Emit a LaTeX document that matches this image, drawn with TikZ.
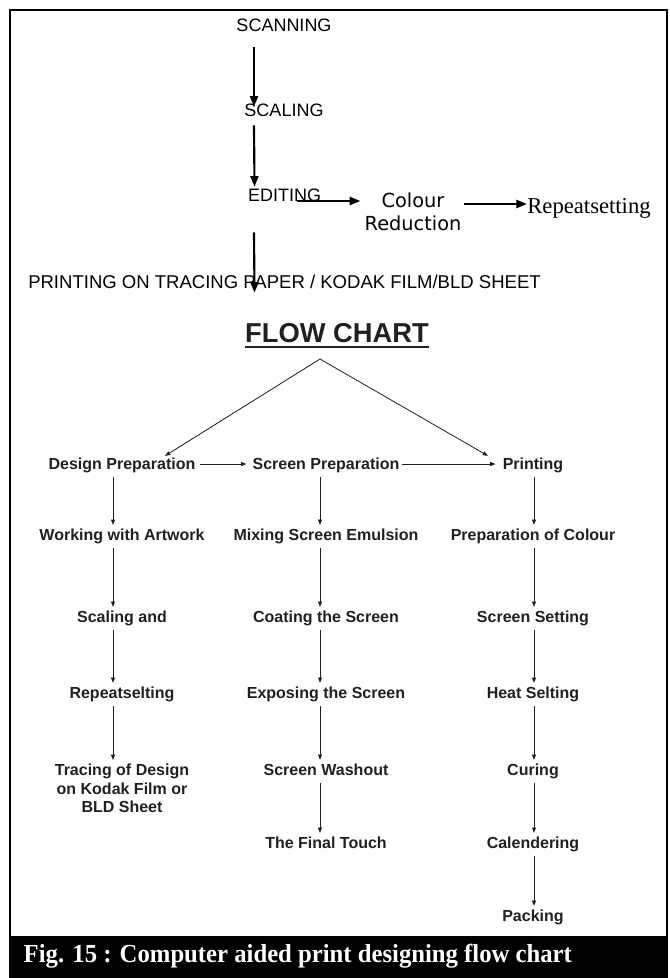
\documentclass[tikz,border=0pt]{standalone}
\usepackage{fontspec}
\setmainfont{Liberation Sans}
\newfontfamily\dejavu{DejaVu Sans}
\newfontfamily\timesfont{Liberation Serif}
\newfontfamily\capfont[FakeStretch=0.95]{Liberation Serif}
\usetikzlibrary{arrows.meta,calc}
\definecolor{ink}{HTML}{231F20}

\begin{document}
\begin{tikzpicture}[x=0.75pt,y=-0.75pt,
  topbox/.style={inner sep=0pt,text height=9.8pt,text depth=0pt,font=\fontsize{13.5}{16}\selectfont},
  stage/.style={inner xsep=0pt,inner ysep=3pt,text height=8.8pt,text depth=0pt,text=ink,font=\fontsize{12}{13.9}\selectfont\bfseries},
  bigarr/.style={line width=1.6pt,-{Triangle[length=8pt,width=6pt]}},
  smallarr/.style={line width=0.6pt,ink,-{Triangle[length=4pt,width=3pt]}}]
\useasboundingbox (0,0) rectangle (670,978);
% Marco y pie
\draw[line width=2pt] (10,10) rectangle (667,937);
\fill[black] (9,937) rectangle (668,978);
\node[anchor=west,text=white,font=\capfont\bfseries\fontsize{19.5}{22}\selectfont] (cap) at (19,956) {Fig. 15 : Computer aided print designing flow chart};
% Cadena superior
\node[topbox] (scan) at (284,25) {SCANNING};
\node[topbox] (scal) at (284,110) {SCALING};
\node[topbox] (edit) at (284.5,195) {EDITING};
\node[align=center,inner sep=0pt,font=\dejavu\fontsize{14.5}{17.3}\selectfont] (colour) at (413,212) {Colour\\Reduction};
\node[inner sep=0pt,font=\timesfont\fontsize{17}{20}\selectfont] (repeat) at (589,208) {Repeatsetting};
\node[topbox,font=\fontsize{13.9}{16}\selectfont] (print) at (284.5,282) {PRINTING ON TRACING PAPER / KODAK FILM/BLD SHEET};
\draw[bigarr] ($(scan.south)+(-30,15.5)$) -- ($(scal.north)+(-30,3.5)$);
\draw[bigarr] ($(scal.south)+(-30,8.5)$) -- ($(edit.north)+(-30,-1.5)$);
\draw[bigarr] ($(edit.east)+(-24,6)$) -- ($(colour.west)+(-4,-11)$);
\draw[bigarr] ($(colour.east)+(2,-8)$) -- ($(repeat.west)+(0,-4)$);
\draw[bigarr] ($(edit.south)+(-30.5,30.5)$) -- ($(print.north)+(-30,17.5)$);
% Titulo
\node[inner sep=0pt,font=\fontsize{20.5}{24}\selectfont\bfseries,text=ink] (flow) at (337,333) {FLOW CHART};
\draw[line width=1.4pt,ink] ([yshift=-3.5pt]flow.base west) -- ([yshift=-3.5pt]flow.base east);
\coordinate (apex) at (320,359);
% Columnas
\node[stage] (dp) at (122,464) {Design Preparation};
\node[stage] (work) at (122,535) {Working with Artwork};
\node[stage] (scl) at (122,617) {Scaling and};
\node[stage] (rep) at (122,693) {Repeatselting};
\node[stage,text height=,text depth=,align=center,anchor=north] (trace) at (122,760) {Tracing of Design\\on Kodak Film or\\BLD Sheet};
\node[stage] (sp) at (326,464) {Screen Preparation};
\node[stage] (mix) at (326,535) {Mixing Screen Emulsion};
\node[stage] (coat) at (326,617) {Coating the Screen};
\node[stage] (expo) at (326,693) {Exposing the Screen};
\node[stage] (wash) at (326,770) {Screen Washout};
\node[stage] (final) at (326,843) {The Final Touch};
\node[stage] (pr) at (533,464) {Printing};
\node[stage] (prep) at (533,535) {Preparation of Colour};
\node[stage] (scr) at (533,617) {Screen Setting};
\node[stage] (heat) at (533,693) {Heat Selting};
\node[stage] (cur) at (533,770) {Curing};
\node[stage] (cal) at (533,843) {Calendering};
\node[stage] (pack) at (533,916) {Packing};
% Flechas
\draw[smallarr] (apex) -- ($(dp.north)+(43,2)$);
\draw[smallarr] (apex) -- ($(pr.north)+(-45,2)$);
\draw[smallarr] ($(dp.east)+(4,0)$) -- ($(sp.west)+(-6,0)$);
\draw[smallarr] ($(sp.east)+(2,0)$) -- ($(pr.west)+(-7,0)$);
\foreach \a/\b/\dx in {dp/work/-9,work/scl/-9,scl/rep/-9,rep/trace/-9,
  sp/mix/-6,mix/coat/-6,coat/expo/-6,expo/wash/-6,wash/final/-6,
  pr/prep/1,prep/scr/1,scr/heat/1,heat/cur/1,cur/cal/1,cal/pack/1}
  \draw[smallarr] ($(\a.south)+(\dx,3)$) -- ($(\b.north)+(\dx,0)$);
\end{tikzpicture}
\end{document}
